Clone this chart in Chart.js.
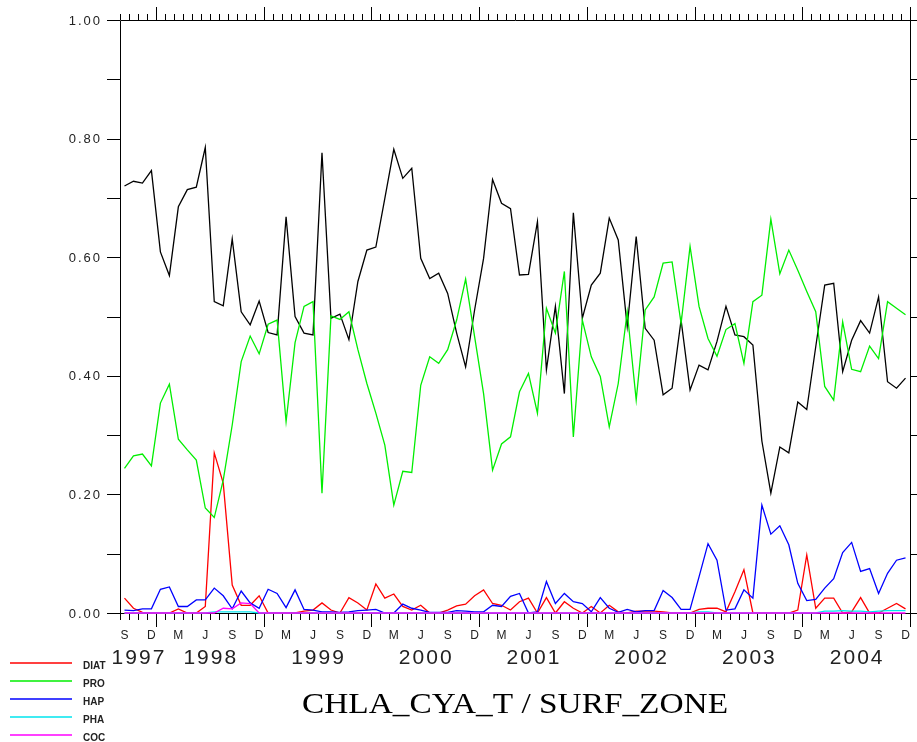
<!DOCTYPE html>
<html lang="en">
<head>
<meta charset="UTF-8">
<title>CHLA_CYA_T / SURF_ZONE</title>
<style>
    body { margin: 0; padding: 0; background: #fff; }
    #wrap { width: 917px; height: 742px; }
</style>
</head>
<body>
<div id="wrap"><canvas id="chart" width="917" height="742"></canvas></div>

<script src="https://cdn.jsdelivr.net/npm/chart.js"></script>
<script>
// monthly values, Sep 1997 .. Dec 2004 (88 months)
const monthLetters = ['S', 'D', 'M', 'J'];
const yearLabels = ['1997', '1998', '1999', '2000', '2001', '2002', '2003', '2004'];
const yTickLabels = ['0.00', '0.20', '0.40', '0.60', '0.80', '1.00'];
const seriesNames = ['DIAT', 'PRO', 'HAP', 'PHA', 'COC'];
const seriesColors = ['#ff0000', '#00ee00', '#0000ff', '#00e5ee', '#ff00ff'];

// black line, no legend entry
const total = [
    0.720, 0.728, 0.725, 0.746, 0.609, 0.569, 0.685, 0.714, 0.718, 0.785, 0.525, 0.518, 0.631, 0.508, 0.486, 0.526, 0.473, 0.469, 0.668, 0.500, 0.472, 0.469,
    0.776, 0.497, 0.504, 0.461, 0.559, 0.612, 0.617, 0.699, 0.782, 0.733, 0.750, 0.598, 0.564, 0.573, 0.539, 0.472, 0.415, 0.511, 0.598, 0.731, 0.691, 0.682,
    0.570, 0.571, 0.660, 0.410, 0.517, 0.370, 0.675, 0.497, 0.553, 0.573, 0.666, 0.629, 0.483, 0.635, 0.480, 0.460, 0.368, 0.379, 0.494, 0.376, 0.418, 0.410,
    0.458, 0.517, 0.469, 0.466, 0.452, 0.290, 0.202, 0.280, 0.270, 0.356, 0.343, 0.449, 0.553, 0.556, 0.407, 0.460, 0.493, 0.472, 0.533, 0.390, 0.379, 0.396
];
const diat = [
    0.025, 0.008, 0.001, 0, 0, 0, 0.007, 0, 0, 0.011, 0.270, 0.219, 0.047, 0.013, 0.013, 0.029, 0, 0, 0, 0, 0.003, 0.005,
    0.017, 0.005, 0, 0.026, 0.017, 0.005, 0.049, 0.025, 0.032, 0.011, 0.005, 0.013, 0, 0, 0.005, 0.012, 0.015, 0.029, 0.039, 0.016, 0.013, 0.005,
    0.019, 0.025, 0, 0.026, 0, 0.019, 0.008, 0, 0.011, 0, 0.013, 0.002, 0, 0.003, 0.003, 0.003, 0.002, 0, 0, 0, 0.006, 0.008,
    0.008, 0.002, 0.036, 0.073, 0, 0, 0, 0, 0, 0.005, 0.098, 0.008, 0.025, 0.025, 0, 0.002, 0.026, 0, 0, 0.008, 0.016, 0.007
];
const pro = [
    0.244, 0.265, 0.268, 0.248, 0.354, 0.386, 0.293, 0.275, 0.258, 0.177, 0.161, 0.224, 0.317, 0.424, 0.467, 0.437, 0.487, 0.494, 0.323, 0.456, 0.517, 0.525,
    0.202, 0.501, 0.495, 0.508, 0.444, 0.387, 0.337, 0.283, 0.182, 0.239, 0.237, 0.384, 0.432, 0.421, 0.444, 0.494, 0.563, 0.466, 0.370, 0.241, 0.285, 0.297,
    0.373, 0.404, 0.337, 0.514, 0.472, 0.576, 0.297, 0.494, 0.432, 0.399, 0.314, 0.387, 0.508, 0.359, 0.511, 0.533, 0.590, 0.592, 0.488, 0.618, 0.517, 0.463,
    0.433, 0.478, 0.488, 0.421, 0.525, 0.536, 0.664, 0.572, 0.612, 0.578, 0.542, 0.508, 0.382, 0.359, 0.491, 0.411, 0.407, 0.450, 0.429, 0.525, 0.514, 0.503
];
const hap = [
    0.005, 0.004, 0.007, 0.007, 0.040, 0.044, 0.011, 0.011, 0.022, 0.022, 0.042, 0.029, 0.007, 0.037, 0.017, 0.008, 0.040, 0.033, 0.009, 0.039, 0.006, 0.005,
    0.002, 0.002, 0.001, 0.002, 0.004, 0.005, 0.006, 0, 0, 0.015, 0.008, 0.005, 0.001, 0.001, 0.001, 0.004, 0.003, 0.002, 0.002, 0.013, 0.011, 0.028,
    0.033, 0, 0.002, 0.053, 0.016, 0.033, 0.019, 0.016, 0.002, 0.026, 0.008, 0.001, 0.006, 0.002, 0.004, 0.004, 0.038, 0.026, 0.006, 0.006, 0.061, 0.117,
    0.089, 0.005, 0.007, 0.039, 0.025, 0.182, 0.133, 0.147, 0.115, 0.050, 0.021, 0.023, 0.042, 0.058, 0.102, 0.119, 0.070, 0.075, 0.033, 0.067, 0.089, 0.093
];
const pha = [
    0, 0, 0, 0, 0, 0, 0, 0, 0, 0, 0.002, 0.002, 0.002, 0.002, 0.002, 0, 0, 0, 0, 0, 0, 0,
    0, 0, 0, 0, 0, 0, 0, 0, 0, 0, 0, 0, 0, 0, 0, 0, 0, 0, 0, 0, 0, 0,
    0, 0, 0, 0, 0, 0, 0, 0, 0, 0, 0, 0, 0, 0, 0, 0, 0, 0, 0, 0, 0.002, 0.002,
    0, 0, 0, 0, 0, 0, 0, 0, 0, 0, 0, 0, 0.003, 0.003, 0.004, 0.003, 0.003, 0.002, 0.003, 0.004, 0.004, 0.004
];
const coc = [
    0, 0, 0, 0, 0, 0, 0, 0, 0, 0, 0, 0.008, 0.007, 0.017, 0.016, 0, 0, 0, 0, 0, 0, 0,
    0, 0, 0, 0, 0, 0, 0, 0, 0, 0, 0, 0, 0, 0, 0, 0, 0, 0, 0, 0, 0, 0,
    0, 0, 0, 0, 0, 0, 0, 0, 0, 0, 0, 0, 0, 0, 0, 0, 0, 0, 0, 0, 0, 0,
    0, 0, 0, 0, 0, 0, 0, 0, 0, 0, 0, 0, 0, 0, 0, 0, 0, 0, 0, 0, 0, 0
];

// x axis is in months since 1 Sep 1997, points sit mid-month
const toPoints = arr => arr.map((v, i) => ({ x: i + 0.5, y: v }));
const seriesData = [diat, pro, hap, pha, coc];

const datasets = [{
    label: 'TOTAL', data: toPoints(total), borderColor: '#000000', order: 6
}];
seriesNames.forEach((name, k) => {
    datasets.push({
        label: name, data: toPoints(seriesData[k]), borderColor: seriesColors[k], order: 5 - k
    });
});
datasets.forEach(d => {
    d.borderWidth = 1.3;
    d.pointRadius = 0;
    d.tension = 0;
    d.fill = false;
    d.clip = false;
});

// frame, ticks, labels, legend and title drawn with the scales
const ferretAxes = {
    id: 'ferretAxes',
    beforeDatasetsDraw(chart) {
        const ctx = chart.ctx;
        const xs = chart.scales.x, ys = chart.scales.y;
        const L = xs.left, R = xs.right, T = ys.top, B = ys.bottom;
        ctx.save();
        ctx.strokeStyle = '#000';
        ctx.lineWidth = 1;
        ctx.beginPath();
        ctx.rect(L + 0.5, T + 0.5, R - L, B - T);
        // month ticks top and bottom
        for (let m = 0; m <= 88; m++) {
            const px = Math.round(xs.getPixelForValue(m)) + 0.5;
            const major = (m - 4) % 12 === 0;
            ctx.moveTo(px, T);
            ctx.lineTo(px, T - (major ? 13 : 6));
            ctx.moveTo(px, B);
            ctx.lineTo(px, B + (major ? 14 : 7));
        }
        // y ticks every 0.1 left and right
        for (let k = 0; k <= 10; k++) {
            const py = Math.round(ys.getPixelForValue(k / 10)) + 0.5;
            ctx.moveTo(L - 13, py);
            ctx.lineTo(L, py);
            ctx.moveTo(R, py);
            ctx.lineTo(R + 8, py);
        }
        ctx.stroke();
        ctx.restore();
    },
    afterDraw(chart) {
        const ctx = chart.ctx;
        const xs = chart.scales.x, ys = chart.scales.y;
        ctx.save();
        ctx.fillStyle = '#222';
        // y labels
        ctx.font = '13px "Liberation Sans", Arial, sans-serif';
        ctx.letterSpacing = '2px';
        ctx.textAlign = 'right';
        ctx.textBaseline = 'middle';
        yTickLabels.forEach((t, k) => {
            ctx.fillText(t, 102, ys.getPixelForValue(k * 0.2) + 1);
        });
        // month letters every 3 months
        ctx.font = '12px "Liberation Sans", Arial, sans-serif';
        ctx.letterSpacing = '0px';
        ctx.textAlign = 'center';
        for (let m = 0; m < 88; m += 3) {
            ctx.fillText(monthLetters[(m / 3) % 4], xs.getPixelForValue(m + 0.5), 636);
        }
        // years
        ctx.font = '21px "Liberation Sans", Arial, sans-serif';
        ctx.letterSpacing = '2px';
        yearLabels.forEach((y, k) => {
            const mid = k === 0 ? 2 : 10 + 12 * (k - 1);
            ctx.fillText(y, xs.getPixelForValue(mid) + 1, 658);
        });
        ctx.letterSpacing = '0px';
        // legend
        ctx.font = 'bold 10px "Liberation Sans", Arial, sans-serif';
        ctx.textAlign = 'left';
        seriesNames.forEach((name, k) => {
            const ly = 663 + k * 18;
            ctx.strokeStyle = seriesColors[k];
            ctx.lineWidth = 1.3;
            ctx.beginPath();
            ctx.moveTo(10, ly);
            ctx.lineTo(72, ly);
            ctx.stroke();
            ctx.fillStyle = '#222';
            ctx.fillText(name, 83, ly + 3);
        });
        // title
        const title = 'CHLA_CYA_T / SURF_ZONE';
        ctx.font = '30px "Liberation Serif", "Times New Roman", serif';
        ctx.fillStyle = '#000';
        const w = ctx.measureText(title).width;
        ctx.translate(302, 705);
        ctx.scale(426 / w, 1);
        ctx.textAlign = 'left';
        ctx.fillText(title, 0, 0);
        ctx.restore();
    }
};

const chart = new Chart(document.getElementById('chart').getContext('2d'), {
    type: 'line',
    data: { datasets: datasets },
    options: {
        responsive: false,
        animation: false,
        devicePixelRatio: 1,
        layout: { padding: { left: 120, right: 7, top: 20, bottom: 129 } },
        scales: {
            x: { type: 'linear', min: 0, max: 88, display: false },
            y: { type: 'linear', min: 0, max: 1, display: false }
        },
        plugins: {
            legend: { display: false },
            tooltip: { enabled: false }
        }
    },
    plugins: [ferretAxes]
});
</script>
</body>
</html>
